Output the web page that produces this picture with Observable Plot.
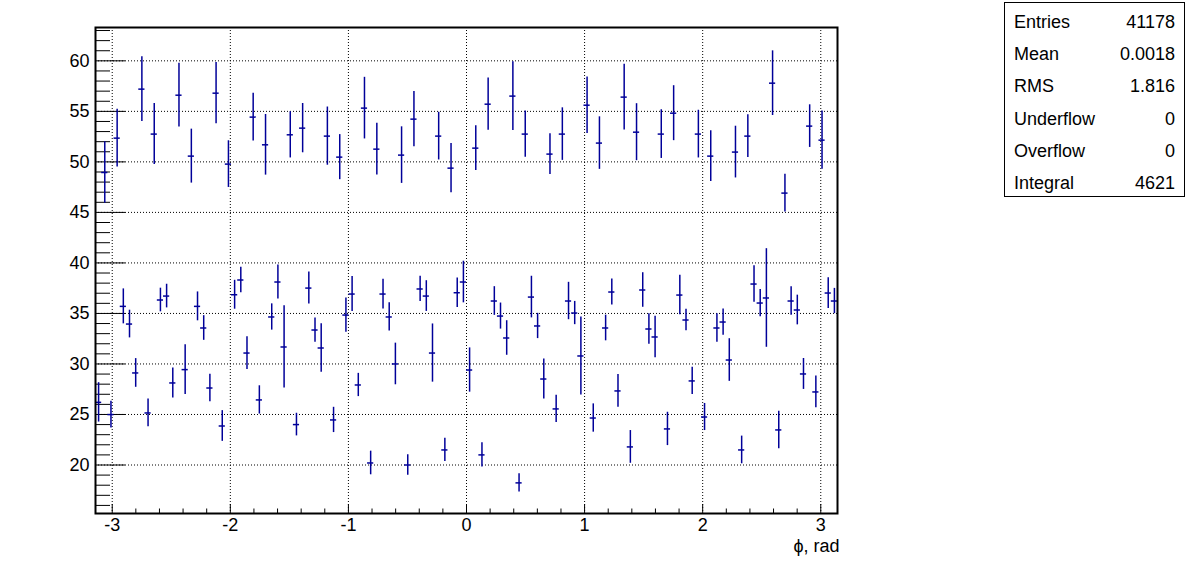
<!DOCTYPE html>
<html><head><meta charset="utf-8">
<script src="https://cdn.jsdelivr.net/npm/d3@7"></script>
<script src="https://cdn.jsdelivr.net/npm/@observablehq/plot@0.6"></script>
<style>
body{margin:0;background:#fff;font-family:"Liberation Sans",Arial,Helvetica,sans-serif;}
#wrap{position:relative;width:1196px;height:572px;overflow:hidden;}
#stats{position:absolute;left:1004px;top:2px;width:181px;height:195px;border:1px solid #000;background:#fff;box-sizing:border-box;font-size:18px;color:#000;}
.row{position:absolute;left:9px;right:9px;height:22px;line-height:22px;}
.row .v{position:absolute;right:0;top:0;}
</style></head><body><div id="wrap"></div>
<script>
const nBins = 120;
const phiMin = -Math.PI, phiMax = Math.PI;
const binValues = [
26.20,48.95,24.99,52.35,35.70,33.95,29.11,57.20,25.15,52.75,
36.33,36.72,28.12,56.60,29.44,50.57,35.70,33.56,27.62,56.80,
23.86,49.78,36.85,38.31,31.08,54.43,26.44,51.69,34.65,38.11,
31.68,52.68,24.00,53.34,37.51,33.36,31.58,52.55,24.46,50.47,
34.84,36.92,27.92,55.32,20.20,51.26,36.92,34.65,30.00,50.67,
20.00,54.23,37.42,36.72,31.08,52.55,21.49,49.38,37.05,38.11,
29.40,51.36,21.00,55.71,36.23,34.74,32.57,56.51,18.23,52.75,
36.62,33.76,28.51,50.77,25.55,52.75,36.23,35.04,30.79,55.61,
24.65,51.86,33.56,37.12,27.33,56.41,21.79,52.94,37.32,33.46,
32.67,52.75,23.57,54.82,36.82,34.35,28.32,52.75,24.75,50.57,
33.56,34.15,30.39,50.97,21.49,52.55,37.91,36.03,36.53,57.79,
23.47,46.91,36.23,35.34,29.01,53.54,27.23,52.15,37.02,36.23];
const binErrors = [
1.95,3.05,1.32,2.85,1.73,1.37,1.42,3.20,1.37,3.02,
1.17,1.17,1.48,3.15,2.46,2.67,1.43,1.22,1.37,3.03,
1.52,2.31,1.43,1.25,1.62,2.36,1.40,3.00,1.30,1.68,
4.07,2.29,1.12,2.44,1.58,1.20,2.39,2.88,1.25,2.23,
1.70,1.73,1.15,3.05,1.17,2.56,1.47,1.40,2.06,2.80,
1.02,2.74,1.25,1.52,2.88,2.36,1.15,2.44,1.45,2.06,
2.19,2.21,1.20,2.59,1.42,1.29,1.71,3.41,0.91,2.28,
2.06,1.25,1.98,2.01,1.35,2.60,1.85,1.15,3.87,2.80,
1.40,2.60,1.27,1.29,1.62,3.25,1.62,2.82,1.71,1.52,
2.06,2.41,1.65,2.72,1.96,1.07,1.35,2.36,1.34,2.51,
1.42,1.30,2.11,2.56,1.37,2.11,1.81,1.35,4.88,3.20,
1.86,1.86,1.40,1.47,1.53,2.11,1.57,2.88,1.52,1.25];
const xTickValues = [-3,-2,-1,0,1,2,3];
const xMinorTicks = d3.range(-2.8, 3.01, 0.2).map(v => +v.toFixed(1)).filter(v => !xTickValues.includes(v));
const yTickValues = [20,25,30,35,40,45,50,55,60];
const yMinorTicks = d3.range(16, 64, 1).filter(v => v % 5 !== 0);
const yDomain = [15.2, 63.3];
const xTitle = "\u03D5, rad";
const statsLabels = ["Entries","Mean","RMS","Underflow","Overflow","Integral"];
const statsValues = ["41178","0.0018","1.816","0","0","4621"];

const binW = (phiMax - phiMin) / nBins;
const data = binValues.map((v, i) => ({
  x: phiMin + (i + 0.5) * binW, x1: phiMin + i * binW, x2: phiMin + (i + 1) * binW,
  v, lo: v - binErrors[i], hi: v + binErrors[i]
}));

const W = 1196, H = 572, mL = 95, mR = 359, mT = 27, mB = 59;
const plotW = W - mL - mR, plotH = H - mT - mB;
const col = "#000099";
const font = "Liberation Sans, Arial, Helvetica, sans-serif";

const chart = Plot.plot({
  width: W, height: H,
  marginLeft: mL, marginRight: mR, marginTop: mT, marginBottom: mB,
  style: {fontFamily: font, background: "#fff", color: "#000"},
  x: {domain: [phiMin, phiMax], label: null},
  y: {domain: yDomain, label: null},
  marks: [
    Plot.gridX(xTickValues, {stroke: "#000", strokeOpacity: 1, strokeDasharray: "1,2", strokeWidth: 1}),
    Plot.gridY(yTickValues, {stroke: "#000", strokeOpacity: 1, strokeDasharray: "1,2", strokeWidth: 1}),
    Plot.tickY(yMinorTicks, {y: d => d, stroke: "#000", strokeWidth: 1, insetRight: plotW - 15}),
    Plot.tickY(yTickValues, {y: d => d, stroke: "#000", strokeWidth: 1, insetRight: plotW - 30}),
    Plot.tickX(xMinorTicks, {x: d => d, stroke: "#000", strokeWidth: 1, insetTop: plotH - 4.5}),
    Plot.tickX(xTickValues, {x: d => d, stroke: "#000", strokeWidth: 1, insetTop: plotH - 9}),
    Plot.axisX(xTickValues, {tickSize: 0, tickPadding: 5, fontSize: 18, tickFormat: d => String(d), fill: "#000"}),
    Plot.axisY(yTickValues, {tickSize: 0, tickPadding: 6, fontSize: 18, tickFormat: d => String(d), fill: "#000"}),
    Plot.ruleX(data, {x: "x", y1: "lo", y2: "hi", stroke: col, strokeWidth: 1.5}),
    Plot.ruleY(data, {y: "v", x1: "x1", x2: "x2", stroke: col, strokeWidth: 1.5}),
    Plot.frame({stroke: "#000", strokeWidth: 2}),
    Plot.text([xTitle], {frameAnchor: "bottom-right", dy: 38, dx: 2, textAnchor: "end", fontSize: 18, fill: "#000"})
  ]
});
const wrap = document.getElementById("wrap");
wrap.appendChild(chart);
const box = document.createElement("div");
box.id = "stats";
statsLabels.forEach((lab, i) => {
  const r = document.createElement("div");
  r.className = "row";
  r.style.top = (8 + i * 32.2) + "px";
  const a = document.createElement("span"); a.textContent = lab;
  const b = document.createElement("span"); b.className = "v"; b.textContent = statsValues[i];
  r.appendChild(a); r.appendChild(b);
  box.appendChild(r);
});
wrap.appendChild(box);
</script>
</body></html>
